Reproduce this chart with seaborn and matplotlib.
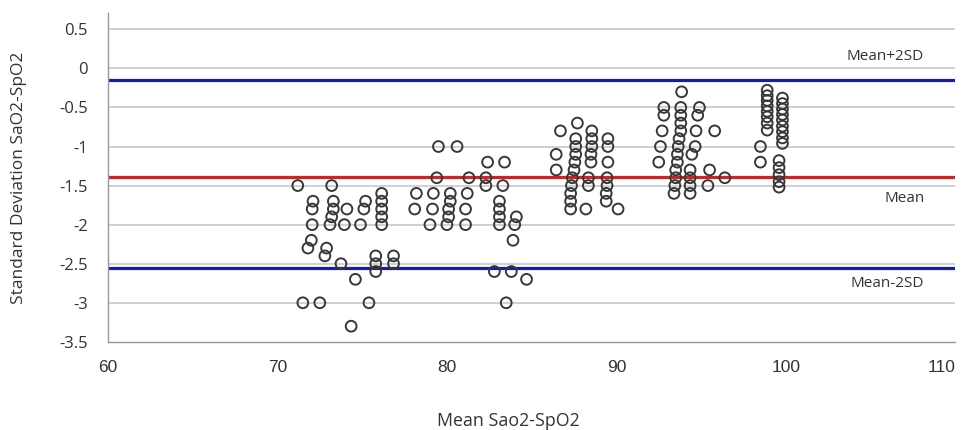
import matplotlib
matplotlib.use("Agg")
import matplotlib.pyplot as plt
import seaborn as sns
import pandas as pd

# === DATA ===
mean_sao2_spo2 = [
    # 71-77
    71.2, 73.2, 72.1, 72.05, 72.05, 73.3, 73.3, 73.2, 73.1, 74.1, 73.95,
    75.2, 75.1, 74.9, 76.15, 76.15, 76.15, 76.15, 76.15,
    72.0, 71.8, 72.9, 72.8, 73.75, 74.6, 75.8, 75.8, 75.8, 76.85, 76.85,
    71.5, 72.5, 75.4, 74.35,
    # 78-85
    78.2, 78.1, 79.5, 80.6, 82.4, 83.4, 79.4, 81.3, 82.3, 82.3, 83.3,
    79.2, 80.2, 80.2, 80.1, 80.1, 80.0, 81.2, 79.15, 81.1, 79.0, 81.1,
    83.1, 83.1, 83.1, 83.1, 84.1, 84.0, 83.9, 82.8, 83.8, 84.7, 83.5,
    # 86-90
    86.7, 87.7, 86.45, 86.45,
    87.6, 87.6, 87.6, 87.55, 87.5, 87.4, 87.35, 87.3, 87.3, 87.3,
    88.55, 88.55, 88.55, 88.5, 88.5, 88.35, 88.35, 88.2,
    89.5, 89.5, 89.5, 89.45, 89.45, 89.4, 89.4, 90.1,
    # 92-96
    93.85, 92.8, 92.8, 93.8, 93.8, 93.8, 93.8, 93.7, 93.65, 93.6, 93.6,
    94.9, 94.8, 92.7, 94.7, 94.65, 94.45, 95.8, 92.6, 92.5,
    93.5, 93.5, 93.45, 93.4, 94.35, 94.35, 94.35, 94.35, 95.5, 95.4, 96.4,
    # 98-100
    98.9, 98.9, 98.9, 98.9, 98.9, 98.9, 98.9, 98.9, 98.5, 98.5,
    99.8, 99.8, 99.8, 99.8, 99.8, 99.8, 99.8, 99.8, 99.8,
    99.6, 99.6, 99.6, 99.6, 99.6,
]
diff_sao2_spo2 = [
    -1.5, -1.5, -1.7, -1.8, -2.0, -1.7, -1.8, -1.9, -2.0, -1.8, -2.0,
    -1.7, -1.8, -2.0, -1.6, -1.7, -1.8, -1.9, -2.0,
    -2.2, -2.3, -2.3, -2.4, -2.5, -2.7, -2.4, -2.5, -2.6, -2.4, -2.5,
    -3.0, -3.0, -3.0, -3.3,
    -1.6, -1.8, -1.0, -1.0, -1.2, -1.2, -1.4, -1.4, -1.4, -1.5, -1.5,
    -1.6, -1.6, -1.7, -1.8, -1.9, -2.0, -1.6, -1.8, -1.8, -2.0, -2.0,
    -1.7, -1.8, -1.9, -2.0, -1.9, -2.0, -2.2, -2.6, -2.6, -2.7, -3.0,
    -0.8, -0.7, -1.1, -1.3,
    -0.9, -1.0, -1.1, -1.2, -1.3, -1.4, -1.5, -1.6, -1.7, -1.8,
    -0.8, -0.9, -1.0, -1.1, -1.2, -1.4, -1.5, -1.8,
    -0.9, -1.0, -1.2, -1.4, -1.5, -1.6, -1.7, -1.8,
    -0.3, -0.5, -0.6, -0.5, -0.6, -0.7, -0.8, -0.9, -1.0, -1.1, -1.2,
    -0.5, -0.6, -0.8, -0.8, -1.0, -1.1, -0.8, -1.0, -1.2,
    -1.3, -1.4, -1.5, -1.6, -1.3, -1.4, -1.5, -1.6, -1.3, -1.5, -1.4,
    -0.28, -0.35, -0.41, -0.48, -0.55, -0.62, -0.70, -0.79, -1.0, -1.2,
    -0.38, -0.45, -0.52, -0.59, -0.66, -0.74, -0.81, -0.89, -0.96,
    -1.18, -1.27, -1.36, -1.45, -1.52,
]

mean_line = -1.39
upper_loa = -0.15
lower_loa = -2.55

x_ticks = [60, 70, 80, 90, 100, 110]
y_ticks = [-3.5, -3, -2.5, -2, -1.5, -1, -0.5, 0, 0.5]
y_tick_labels = ["-3.5", "-3", "-2.5", "-2", "-1.5", "-1", "-0.5", "0", "0.5"]

df = pd.DataFrame({"mean": mean_sao2_spo2, "diff": diff_sao2_spo2})

# === PLOT ===
sns.set_style("white")
plt.rcParams['font.family'] = ['Open Sans', 'DejaVu Sans']

fig = plt.figure(figsize=(9.64, 4.30), dpi=100)
ax = fig.add_axes([0.112, 0.205, 0.879, 0.765])

for yv in y_ticks[1:]:
    ax.axhline(yv, color='#c8c8c8', linewidth=1.2, zorder=0)

ax.axhline(upper_loa, color='#1c1ca0', linewidth=2.3, zorder=1)
ax.axhline(mean_line, color='#d42222', linewidth=2.3, zorder=1)
ax.axhline(lower_loa, color='#1c1ca0', linewidth=2.3, zorder=1)

sns.scatterplot(data=df, x="mean", y="diff", ax=ax, marker='o', s=60,
                facecolors='none', edgecolor='#383838', linewidth=1.4, zorder=3)

ax.set_xlim(60, 110)
ax.set_ylim(-3.5, 0.71)
ax.set_xticks(x_ticks)
ax.set_xticklabels([str(t) for t in x_ticks], family=['Liberation Sans', 'DejaVu Sans'])
ax.set_yticks(y_ticks)
ax.set_yticklabels(y_tick_labels)
ax.tick_params(axis='x', direction='in', length=5, color='#999999', pad=13,
               labelsize=12.5, labelcolor='#333333')
ax.tick_params(axis='y', length=0, pad=14.5, labelsize=12, labelcolor='#333333')
ax.get_xticklabels()[-1].set_ha('right')

ax.set_xlabel('Mean Sao2-SpO2', fontsize=12.8, color='#333333', va='center')
ax.xaxis.set_label_coords(0.472, -0.24)
ax.set_ylabel('Standard Deviation SaO2-SpO2', fontsize=12.5, color='#333333', va='center')
ax.yaxis.set_label_coords(-0.105, 0.5)

for side in ['top', 'right']:
    ax.spines[side].set_visible(False)
for side in ['left', 'bottom']:
    ax.spines[side].set_color('#999999')
    ax.spines[side].set_linewidth(1.0)

ax.text(105.85, 0.155, 'Mean+2SD', fontsize=11, color='#333333', ha='center', va='center')
ax.text(107.0, -1.665, 'Mean', fontsize=11, color='#333333', ha='center', va='center')
ax.text(105.95, -2.75, 'Mean-2SD', fontsize=11, color='#333333', ha='center', va='center')

fig.savefig('out.png', dpi=100)
